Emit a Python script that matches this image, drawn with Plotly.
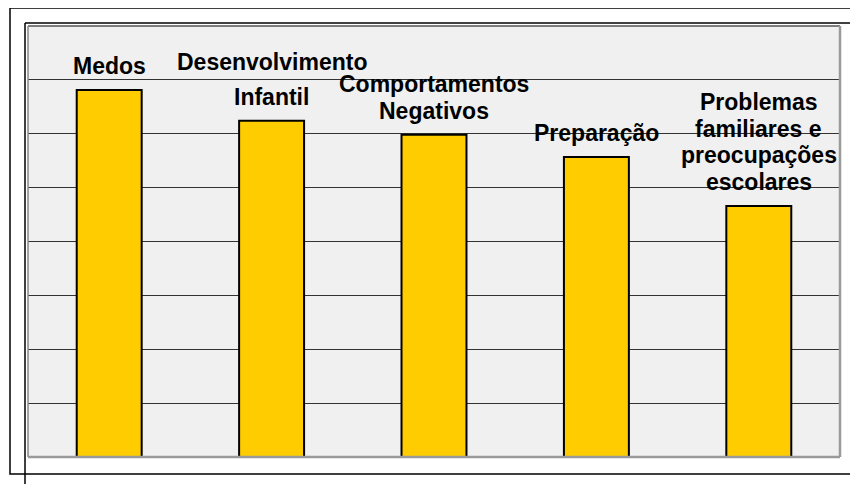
import plotly.graph_objects as go

categories = ["Medos", "Desenvolvimento Infantil", "Comportamentos Negativos",
              "Preparação", "Problemas familiares e preocupações escolares"]
values = [6.81, 6.24, 5.98, 5.57, 4.66]
label_lines = [
    ["Medos"],
    ["Desenvolvimento", "Infantil"],
    ["Comportamentos", "Negativos"],
    ["Preparação"],
    ["Problemas", "familiares e", "preocupações", "escolares"],
]
line_gaps = [27, 35, 27, 27, 26.5]
y_ticks = [0, 1, 2, 3, 4, 5, 6, 7, 8]

# page body has an 8px margin; work in reference pixel coords and shift
OFF = 8
W, H = 858 - OFF, 484 - OFF
L, R, T, B = 28 - OFF, 840 - OFF, 26 - OFF, 457 - OFF

fig = go.Figure()
fig.add_trace(go.Bar(
    x=categories, y=values,
    marker=dict(color="#FFCC00", line=dict(color="#000000", width=2)),
    hoverinfo="skip",
))

annotations = []
for cat, val, lines, gap in zip(categories, values, label_lines, line_gaps):
    for i, line in enumerate(reversed(lines)):
        annotations.append(dict(
            x=cat, y=val, xref="x", yref="y", text=line, showarrow=False,
            yanchor="bottom", xanchor="center", yshift=9 + i * gap,
            font=dict(family="Liberation Sans, Arial", size=23, color="#000000", weight="bold"),
        ))

def px(x):
    return (x - OFF - L) / (R - L)
def py(y):
    return (B - (y - OFF)) / (B - T)

shapes = [
    dict(type="rect", xref="paper", yref="paper", x0=px(10), x1=px(856), y0=py(474), y1=py(8),
         line=dict(color="#000000", width=1.5), layer="above"),
    dict(type="line", xref="paper", yref="paper", x0=px(25), x1=px(870), y0=py(23), y1=py(23),
         line=dict(color="#000000", width=1.5), layer="above"),
    dict(type="line", xref="paper", yref="paper", x0=px(25), x1=px(25), y0=py(23), y1=py(500),
         line=dict(color="#000000", width=1.5), layer="above"),
    dict(type="line", xref="paper", yref="paper", x0=0, x1=1, y0=1, y1=1,
         line=dict(color="#555555", width=1.5), layer="above"),
    dict(type="line", xref="paper", yref="paper", x0=0, x1=0, y0=0, y1=1,
         line=dict(color="#888888", width=1.5), layer="above"),
    dict(type="line", xref="paper", yref="paper", x0=1, x1=1, y0=0, y1=1,
         line=dict(color="#9a9a9a", width=2.5), layer="above"),
    dict(type="line", xref="paper", yref="paper", x0=0, x1=1, y0=0, y1=0,
         line=dict(color="#9a9a9a", width=2.5), layer="above"),
]

fig.update_layout(
    width=W, height=H,
    margin=dict(l=L, r=W - R, t=T, b=H - B),
    paper_bgcolor="#ffffff", plot_bgcolor="#f0f0f0",
    bargap=0.6, showlegend=False,
    annotations=annotations, shapes=shapes,
    xaxis=dict(showticklabels=False, showgrid=False, zeroline=False, showline=False, ticks=""),
    yaxis=dict(range=[0, 8], tickvals=y_ticks, showticklabels=False, showgrid=True,
               gridcolor="#333333", gridwidth=1, zeroline=False, showline=False, ticks=""),
)
fig.write_html("out.html")
